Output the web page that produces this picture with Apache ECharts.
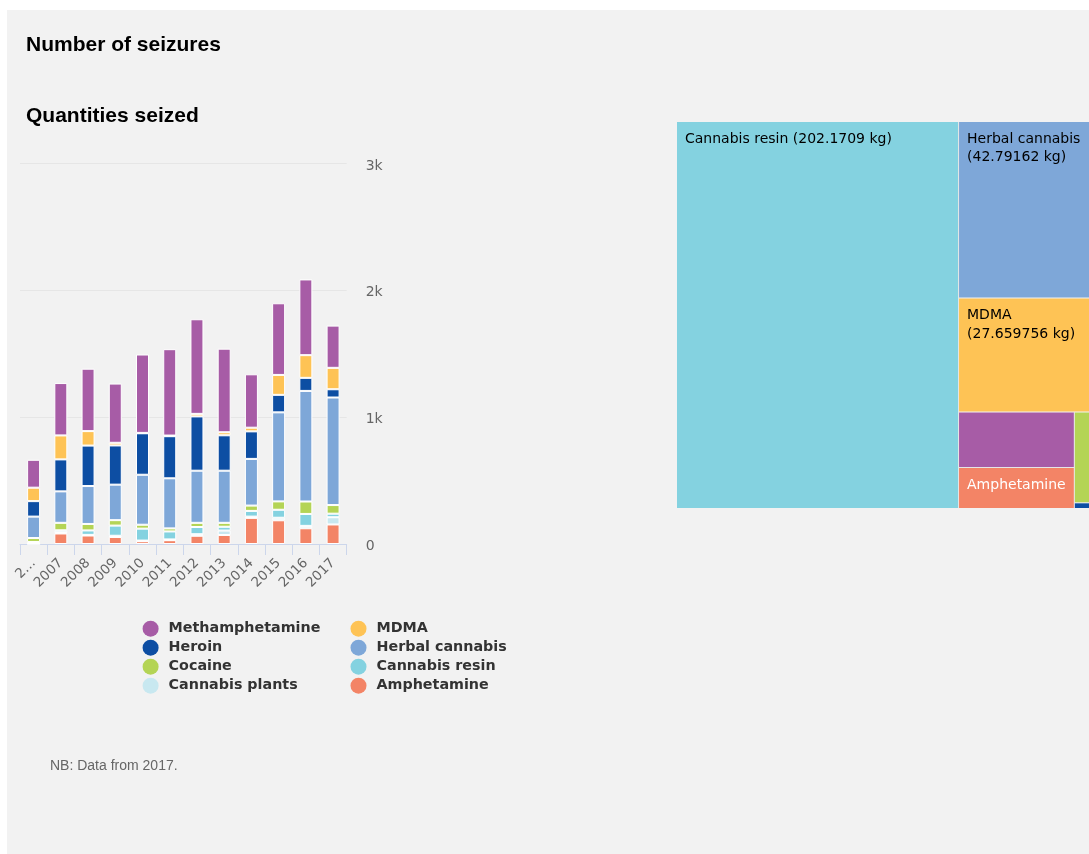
<!DOCTYPE html>
<html>
<head>
<meta charset="utf-8">
<script src="https://cdn.jsdelivr.net/npm/echarts@6/dist/echarts.min.js"></script>
<style>
html,body{margin:0;padding:0;background:#fff;width:1089px;height:854px;overflow:hidden}
#panel{position:absolute;left:7px;top:10px;width:1082px;height:844px;background:#f2f2f2}
#chart{position:absolute;left:0;top:0;width:1089px;height:854px}
</style>
</head>
<body>
<div id="panel"></div>
<div id="chart"></div>
<script>
// ---- data ----
const years = ['2006','2007','2008','2009','2010','2011','2012','2013','2014','2015','2016','2017'];
const yTickLabels = ['0','1k','2k','3k'];

const amphetamine     = [0, 83, 67, 55, 22, 30, 65, 71, 206, 187, 124, 154];
const cannabisPlants  = [6, 10, 5, 10, 5, 6, 12, 35, 10, 20, 19, 57];
const cannabisResin   = [10, 15, 35, 80, 94, 63, 57, 30, 45, 63, 94, 28];
const cocaine         = [31, 59, 51, 43, 31, 24, 33, 31, 42, 66, 98, 68];
const herbalCannabis  = [169, 248, 299, 280, 394, 395, 411, 411, 368, 702, 872, 848];
const heroin          = [122, 252, 319, 309, 327, 332, 428, 279, 217, 138, 103, 65];
const mdma            = [106, 189, 114, 21, 3, 5, 20, 24, 29, 157, 179, 169];
const methamphetamine = [220, 413, 492, 467, 618, 681, 746, 659, 421, 565, 597, 333];

// quantities seized in 2017 (kg)
const qtyNames  = ['Cannabis resin','Herbal cannabis','MDMA','Methamphetamine','Amphetamine','Cocaine','Heroin'];
const qtyValues = [202.1709, 42.79162, 27.659756, 11.9, 8.8139, 2.55, 0.16];

const colors = {
  'Methamphetamine':'#a75ca6',
  'MDMA':'#fec355',
  'Heroin':'#0d4ea3',
  'Herbal cannabis':'#7ea7d8',
  'Cocaine':'#b4d455',
  'Cannabis resin':'#84d2e0',
  'Cannabis plants':'#c8e8f0',
  'Amphetamine':'#f38466'
};

const barSeriesDefs = [
  ['Amphetamine', amphetamine],
  ['Cannabis plants', cannabisPlants],
  ['Cannabis resin', cannabisResin],
  ['Cocaine', cocaine],
  ['Herbal cannabis', herbalCannabis],
  ['Heroin', heroin],
  ['MDMA', mdma],
  ['Methamphetamine', methamphetamine]
];

const chart = echarts.init(document.getElementById('chart'), null, {renderer:'canvas'});

const titleFont = {fontFamily:'Liberation Sans, Arial, sans-serif', fontWeight:'bold', fontSize:21, lineHeight:21, color:'#000'};
const legendText = {fontFamily:'DejaVu Sans', fontWeight:'bold', fontSize:14.3, lineHeight:16, color:'#333'};

const barSeries = barSeriesDefs.map(([name, vals]) => ({
  name: name,
  type: 'bar',
  stack: 'total',
  barWidth: 13,
  data: vals,
  itemStyle: {color: colors[name], borderColor:'#ffffff', borderWidth:1},
  emphasis: {disabled:true}
}));

const hiddenLabel = {'Methamphetamine': true, 'Cocaine': true, 'Heroin': true};
const twoLineLabel = {'Herbal cannabis': '#000000', 'MDMA': '#000000', 'Amphetamine': '#ffffff'};

const treeData = qtyNames.map((n, i) => {
  const d = {name:n, value:qtyValues[i], itemStyle:{color:colors[n]}};
  if (hiddenLabel[n]) d.label = {show:false};
  if (twoLineLabel[n]) d.label = {color: twoLineLabel[n], overflow:'none',
    formatter: p => p.name + '\n(' + p.value + ' kg)'};
  return d;
});

const legendCommon = {orient:'vertical', top:620.7, padding:0, itemWidth:26, itemHeight:16, itemGap:3,
  icon:'circle', itemStyle:{borderWidth:0}, textStyle:legendText};

const option = {
  animation: false,
  title: [
    {text:'Number of seizures', left:26, top:34.5, padding:0, textStyle:titleFont},
    {text:'Quantities seized', left:26, top:106, padding:0, textStyle:titleFont},
    {text:'NB: Data from 2017.', left:50, top:759.5, padding:0,
     textStyle:{fontFamily:'Liberation Sans, Arial, sans-serif', fontWeight:'normal', fontSize:14, lineHeight:14, color:'#666'}}
  ],
  legend: [
    Object.assign({left:142.6, data:['Methamphetamine','Heroin','Cocaine','Cannabis plants']}, legendCommon),
    Object.assign({left:350.5, data:['MDMA','Herbal cannabis','Cannabis resin','Amphetamine']}, legendCommon)
  ],
  grid: {left:20, top:163.5, width:326.7, height:380.5, containLabel:false},
  xAxis: {
    type:'category', data: years, boundaryGap:true,
    axisLine:{lineStyle:{color:'#ccd6eb', width:1}},
    axisTick:{show:true, length:11, interval:0, lineStyle:{color:'#ccd6eb'}},
    axisLabel:{interval:0, rotate:45, color:'#666', fontSize:13.5, fontFamily:'DejaVu Sans', margin:17,
      formatter:(v, i) => i === 0 ? v.charAt(0) + '\u2026' : v}
  },
  yAxis: {
    type:'value', position:'right', min:0, max:3000, interval:1000,
    axisLine:{show:false}, axisTick:{show:false},
    splitLine:{lineStyle:{color:'#e6e6e6', width:1}},
    axisLabel:{margin:19, color:'#666', fontSize:14, fontFamily:'DejaVu Sans', verticalAlign:'top', lineHeight:5,
      formatter:(v) => yTickLabels[Math.round(v/1000)]}
  },
  series: barSeries.concat([{
    type:'treemap',
    left:677, top:122, width:412, height:386,
    roam:false, nodeClick:false,
    breadcrumb:{show:false},
    emphasis:{disabled:true},
    levels:[
      {itemStyle:{borderColor:'#e6e6e6', borderWidth:0, gapWidth:1}},
      {itemStyle:{borderWidth:0, gapWidth:0}}
    ],
    label:{show:true, position:'insideTopLeft', distance:0, padding:[8,7,7,8], color:'#000',
      fontSize:14, fontFamily:'DejaVu Sans', lineHeight:18.5, overflow:'break',
      formatter: p => p.name + ' (' + p.value + ' kg)'},
    upperLabel:{show:false},
    data: treeData
  }])
};

chart.setOption(option);
</script>
</body>
</html>
